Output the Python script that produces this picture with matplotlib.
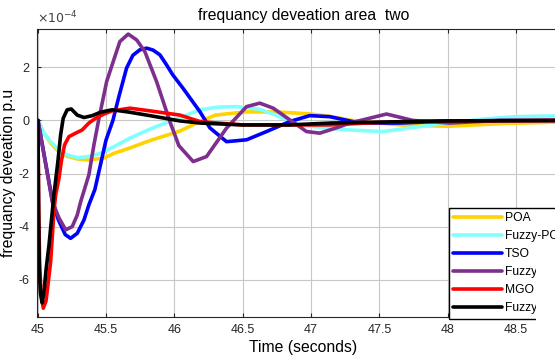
import matplotlib
matplotlib.use("Agg")
import matplotlib.pyplot as plt
from matplotlib.patches import Rectangle

plt.rcParams['font.family'] = ['Liberation Sans', 'DejaVu Sans']
plt.rcParams['axes.unicode_minus'] = False

# values in units of 1e-4 p.u.
t_poa = [45.0, 45.044, 45.093, 45.141, 45.214, 45.288, 45.37, 45.483, 45.556, 45.673, 45.82, 46.04, 46.186, 46.3, 46.52, 46.74, 46.88, 47.0, 47.14, 47.3, 47.65, 48.0, 48.4, 48.9]
y_poa = [0.0, -0.48, -0.85, -1.12, -1.35, -1.45, -1.49, -1.42, -1.24, -1.04, -0.76, -0.4, -0.04, 0.2, 0.32, 0.32, 0.28, 0.24, 0.15, 0.0, -0.17, -0.22, -0.12, -0.05]

t_fpoa = [45.0, 45.044, 45.093, 45.141, 45.214, 45.288, 45.361, 45.459, 45.556, 45.673, 45.82, 45.966, 46.04, 46.186, 46.318, 46.45, 46.625, 46.79, 46.918, 47.138, 47.284, 47.525, 47.89, 48.26, 48.5, 48.9]
y_fpoa = [0.0, -0.48, -0.8, -1.05, -1.3, -1.4, -1.37, -1.24, -0.99, -0.67, -0.33, -0.03, 0.1, 0.4, 0.5, 0.52, 0.42, 0.1, -0.17, -0.3, -0.36, -0.42, -0.17, 0.05, 0.14, 0.18]

t_tso = [45.0, 45.105, 45.15, 45.2, 45.239, 45.288, 45.337, 45.373, 45.417, 45.461, 45.498, 45.549, 45.593, 45.649, 45.695, 45.747, 45.796, 45.842, 45.893, 45.942, 45.988, 46.061, 46.186, 46.259, 46.381, 46.528, 46.674, 46.845, 46.991, 47.138, 47.357, 47.65, 48.016, 48.9]
y_tso = [0.0, -3.0, -3.75, -4.3, -4.44, -4.25, -3.75, -3.18, -2.6, -1.6, -0.75, 0.0, 0.9, 1.97, 2.45, 2.66, 2.72, 2.65, 2.47, 2.09, 1.71, 1.22, 0.33, -0.28, -0.8, -0.73, -0.42, -0.04, 0.18, 0.14, -0.1, -0.1, -0.02, 0.0]

t_ftso = [45.0, 45.105, 45.154, 45.203, 45.251, 45.288, 45.313, 45.373, 45.41, 45.447, 45.483, 45.503, 45.551, 45.6, 45.661, 45.723, 45.783, 45.869, 45.966, 46.032, 46.137, 46.235, 46.381, 46.528, 46.625, 46.723, 46.845, 46.967, 47.064, 47.174, 47.284, 47.553, 47.745, 48.016, 48.382, 48.9]
y_ftso = [0.0, -3.06, -3.67, -4.12, -4.0, -3.56, -3.06, -2.05, -0.92, 0.08, 0.96, 1.46, 2.21, 2.97, 3.25, 3.03, 2.59, 1.46, -0.04, -0.95, -1.55, -1.36, -0.29, 0.52, 0.65, 0.46, 0.02, -0.42, -0.48, -0.3, -0.1, 0.24, 0.0, -0.1, 0.0, 0.0]

t_mgo = [45.0, 45.005, 45.012, 45.022, 45.039, 45.059, 45.073, 45.093, 45.117, 45.13, 45.154, 45.171, 45.195, 45.227, 45.276, 45.324, 45.373, 45.422, 45.483, 45.544, 45.674, 45.82, 46.04, 46.19, 46.5, 47.14, 47.4, 47.65, 48.0, 48.9]
y_mgo = [0.0, -3.0, -5.3, -6.5, -7.07, -6.8, -6.2, -5.32, -3.43, -2.8, -2.18, -1.55, -0.92, -0.61, -0.48, -0.36, -0.1, 0.08, 0.24, 0.36, 0.46, 0.36, 0.2, -0.05, -0.17, -0.17, -0.1, -0.05, -0.02, 0.0]

t_fmgo = [45.0, 45.005, 45.01, 45.018, 45.031, 45.045, 45.06, 45.081, 45.105, 45.117, 45.146, 45.166, 45.185, 45.214, 45.244, 45.288, 45.337, 45.398, 45.459, 45.544, 45.67, 45.82, 46.04, 46.19, 46.5, 46.84, 47.14, 47.65, 48.0, 48.9]
y_fmgo = [0.0, -3.5, -5.6, -6.5, -6.87, -6.4, -5.6, -4.69, -3.43, -2.8, -1.55, -0.55, 0.08, 0.4, 0.43, 0.2, 0.11, 0.18, 0.31, 0.4, 0.31, 0.18, -0.02, -0.1, -0.17, -0.17, -0.1, -0.05, -0.02, 0.0]

series = [
    ("POA", t_poa, y_poa, "#FFD200"),
    ("Fuzzy-POA", t_fpoa, y_fpoa, "#80FFFF"),
    ("TSO", t_tso, y_tso, "#0000FF"),
    ("Fuzzy-TSO", t_ftso, y_ftso, "#7E2F8E"),
    ("MGO", t_mgo, y_mgo, "#FF0000"),
    ("Fuzzy-MGO", t_fmgo, y_fmgo, "#000000"),
]

xticks = [45, 45.5, 46, 46.5, 47, 47.5, 48, 48.5]
xticklabels = ["45", "45.5", "46", "46.5", "47", "47.5", "48", "48.5"]
yticks = [-6, -4, -2, 0, 2]
yticklabels = ["-6", "-4", "-2", "0", "2"]

fig = plt.figure(figsize=(5.55, 3.6), dpi=100)
ax = fig.add_axes([0.0659, 0.1203, 0.962, 0.7983])

for name, t, y, c in series:
    ax.plot(t, y, color=c, lw=2.6, label=name, solid_joinstyle='round',
            solid_capstyle='round')

ax.set_xlim(44.99, 48.9)
ax.set_ylim(-7.39, 3.43)
ax.set_xticks(xticks)
ax.set_xticklabels(xticklabels)
ax.set_yticks(yticks)
ax.set_yticklabels(yticklabels)
ax.tick_params(direction='in', length=3, labelsize=9, colors='#262626', top=True, right=True, pad=5)
ax.grid(True, color='#c8c8c8', lw=0.8)
ax.set_axisbelow(True)
for s in ax.spines.values():
    s.set_color('#262626')
    s.set_linewidth(0.8)

ax.set_title("frequancy deveation area  two", fontsize=11.3, pad=7)
ax.set_xlabel("Time (seconds)", fontsize=11.3, labelpad=3)
ax.set_ylabel("frequancy deveation p.u", fontsize=11.3, labelpad=2)
ax.text(0.0, 1.01, r"$\times10^{-4}$", transform=ax.transAxes, fontsize=9,
        ha='left', va='bottom', color='#404040')

leg = fig.legend(loc='lower left', bbox_to_anchor=(449/555, 1 - 318.5/360),
                 fontsize=8.7, handlelength=4.0, handletextpad=0.25,
                 labelspacing=0.5, borderpad=0.35, borderaxespad=0,
                 fancybox=False, framealpha=1, edgecolor='black')
leg.get_frame().set_linewidth(1.0)

# the reference image is cropped: its lower-right corner is blank
fig.patches.append(Rectangle((536/555, 0), 19/555, 1 - 250/360,
                             transform=fig.transFigure, facecolor='white',
                             edgecolor='none', zorder=10))

fig.savefig("out.png", dpi=100)
